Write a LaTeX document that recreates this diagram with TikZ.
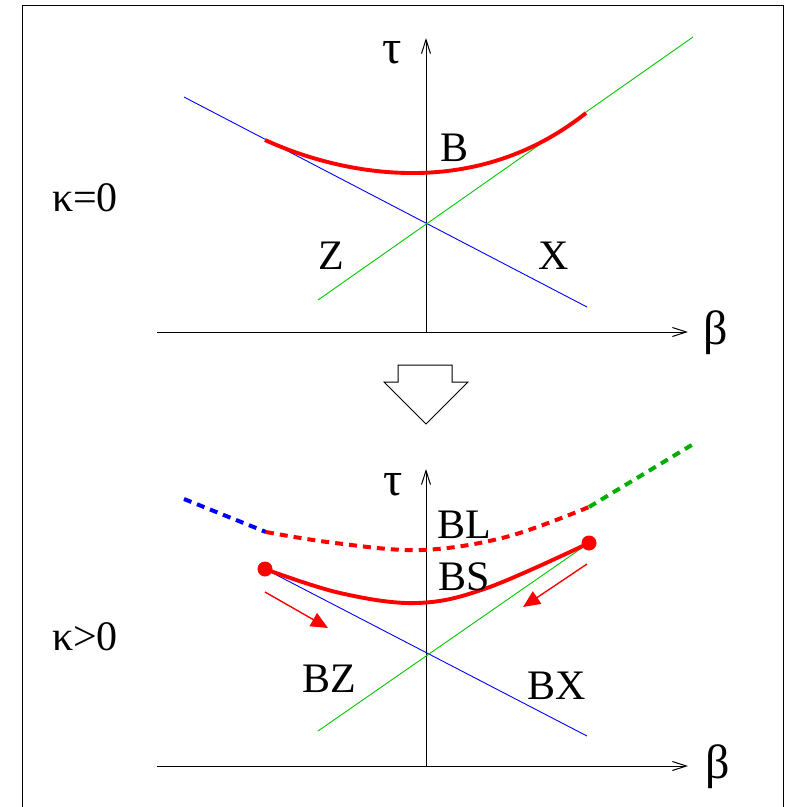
\documentclass[tikz,border=0pt]{standalone}
\usepackage{fontspec}
\setmainfont{Liberation Serif}
\usetikzlibrary{arrows.meta}
\definecolor{lineblue}{RGB}{0,0,255}
\definecolor{linegreen}{RGB}{0,200,0}
\definecolor{dashgreen}{RGB}{0,175,0}
\definecolor{curvered}{RGB}{255,0,0}

\begin{document}
\begin{tikzpicture}[
  x=1pt, y=-1pt,
  font=\fontsize{42}{48}\selectfont,
  axis/.style={line width=1pt, -{Straight Barb[length=14pt,width=9pt]}},
  blueline/.style={draw=lineblue, line width=0.9pt},
  greenline/.style={draw=linegreen, line width=0.9pt},
  branch/.style={draw=curvered, line width=3.9pt},
  dashbranch/.style={line width=4pt, dash pattern=on 8pt off 6pt},
  flow/.style={draw=curvered, line width=1.4pt, -{Triangle[length=17pt,width=15pt]}},
  enddot/.style={circle, fill=curvered, inner sep=0pt, minimum size=15pt},
  lbl/.style={inner sep=0pt},
  greek/.style={inner sep=0pt, font=\fontsize{48}{54}\selectfont}
]
\useasboundingbox (0,0) rectangle (789,807);
\draw[line width=1pt] (22,807) -- (22,5) -- (783,5) -- (783,807);

% kappa = 0
\coordinate (betaA0) at (157,332);
\coordinate (betaA1) at (688,332);
\coordinate (tauA1) at (426,38);
\draw[axis] (betaA0) -- (betaA1);
\draw[axis] (tauA1 |- betaA0) -- (tauA1);
\node[greek] (betaA) at (716,333) {β};
\node[greek] (tauA) at (392,53) {τ};
\node[lbl] (kappaA) at (85,198) {κ=0};

\coordinate (zA) at (184,97);
\coordinate (zA1) at (587,307);
\coordinate (xA) at (318,300);
\coordinate (xA1) at (693,37);
\coordinate (bA0) at (265,140);
\coordinate (bA1) at (586,113);
\draw[blueline] (zA) -- (zA1);
\draw[greenline] (xA) -- (xA1);
\draw[branch] (bA0) .. controls (335,172) and (470,205) .. (bA1);
\node[lbl] (bA) at (455,148) {B};
\node[lbl] (zlblA) at (331,256) {Z};
\node[lbl] (xlblA) at (554,256) {X};

% big arrow
\draw[line width=1pt, fill=white] (398,365) -- (452,365) -- (452,382) -- (468,382)
  -- (426,424) -- (384,382) -- (398,382) -- cycle;

% kappa > 0
\coordinate (betaB0) at (157,766);
\coordinate (betaB1) at (688,766);
\coordinate (tauB1) at (426,469);
\draw[axis] (betaB0) -- (betaB1);
\draw[axis] (tauB1 |- betaB0) -- (tauB1);
\node[greek] (betaB) at (718,767) {β};
\node[greek] (tauB) at (393,485) {τ};
\node[lbl] (kappaB) at (85,637) {κ>0};

\node[enddot] (sL) at (265,569) {};
\node[enddot] (sR) at (589,543) {};
\coordinate (zB1) at (587,736);
\coordinate (xB) at (318,731);
\draw[blueline] (sL.center) -- (zB1);
\draw[greenline] (xB) -- (sR.center);
\draw[branch] plot[smooth, tension=0.6] coordinates {(sL.center) (340,593) (417,603) (487,588) (sR.center)};

\coordinate (lL) at (266,532);
\coordinate (lR) at (589,507);
\draw[dashbranch, draw=lineblue] (184,499) -- (lL);
\draw[dashbranch, draw=curvered] plot[smooth, tension=0.6] coordinates {(lL) (335,543) (421,550) (506,537) (lR)};
\draw[dashbranch, draw=dashgreen] (lR) -- (695,443);

\coordinate (fL0) at (265,592);
\coordinate (fL1) at (328,628);
\coordinate (fR0) at (587,564);
\coordinate (fR1) at (523,607);
\draw[flow] (fL0) -- (fL1);
\draw[flow] (fR0) -- (fR1);

\node[lbl] (bl) at (464,525) {BL};
\node[lbl] (bs) at (464,577) {BS};
\node[lbl] (bz) at (329,679) {BZ};
\node[lbl] (bx) at (557,686) {BX};
\end{tikzpicture}
\end{document}
